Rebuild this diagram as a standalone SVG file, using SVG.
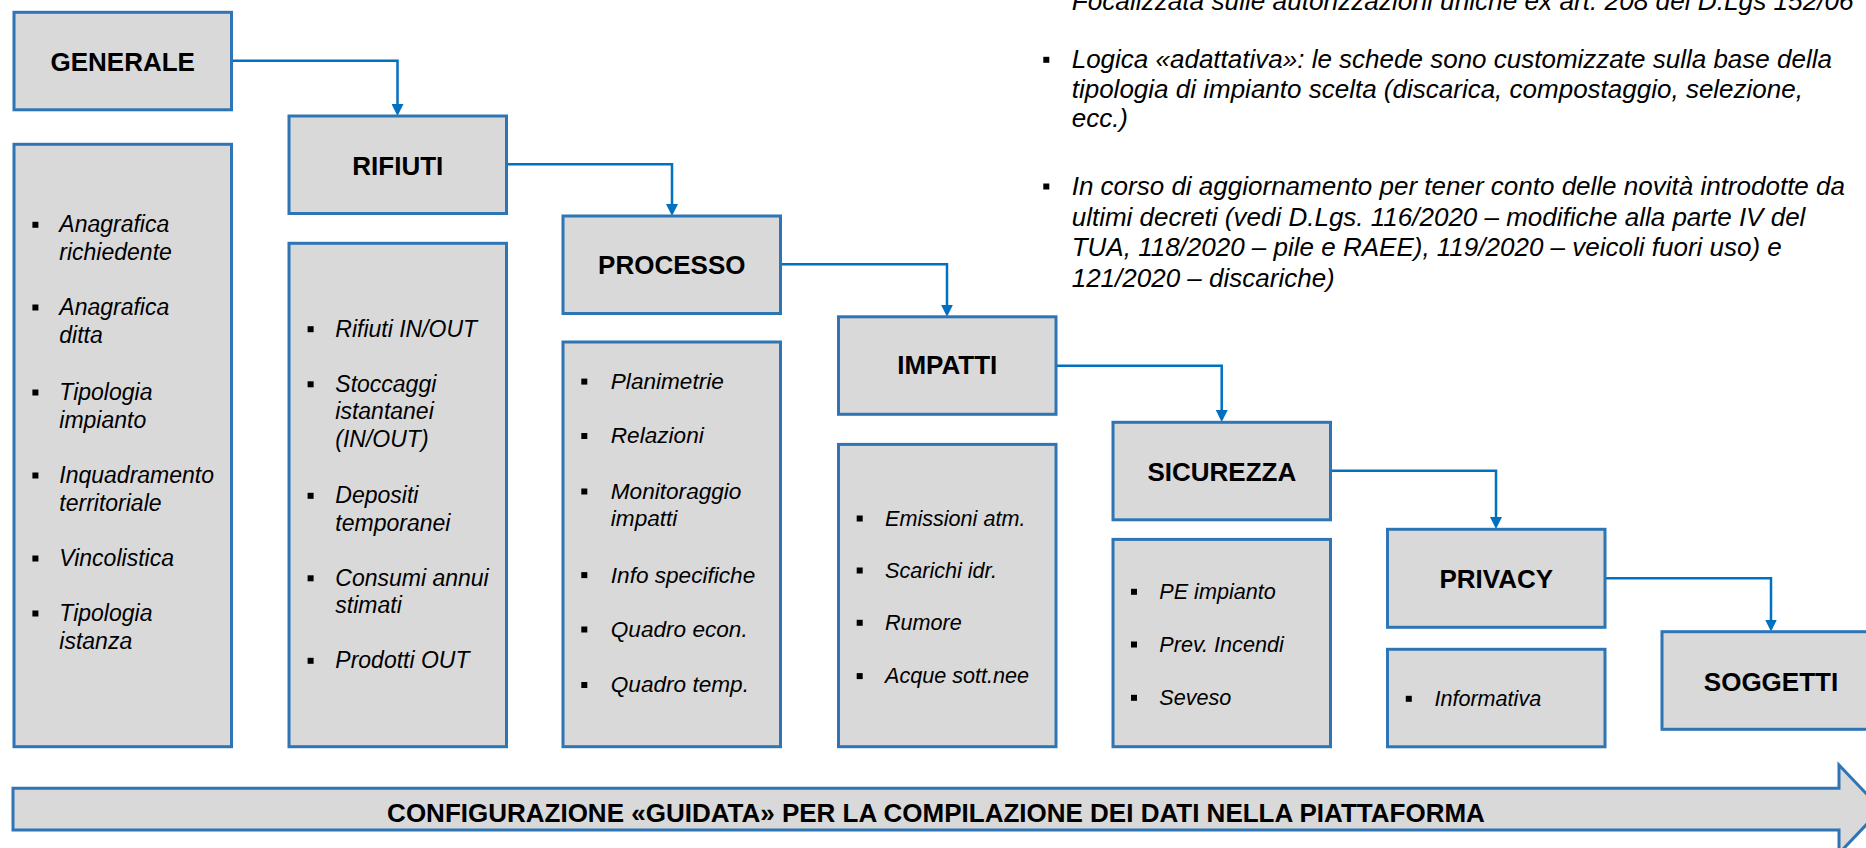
<svg xmlns="http://www.w3.org/2000/svg" width="1866" height="848" viewBox="0 0 1866 848">
  <defs>
    <style>
      .box { fill: #d9d9d9; stroke: #2e75b6; stroke-width: 3; }
      .title { font-family: "Liberation Sans", Arial, sans-serif; font-weight: bold; font-size: 26px; text-anchor: middle; fill: #000; }
      .item { font-family: "Liberation Sans", Arial, sans-serif; font-style: italic; fill: #000; }
      .s23 { font-size: 23px; }
      .s22 { font-size: 22.6px; }
      .s21 { font-size: 21.6px; }
      .s26 { font-size: 26px; }
      .bul { fill: #000; }
      .conn { fill: none; stroke: #0070c0; stroke-width: 2.5; }
    </style>
    <marker id="arr" viewBox="0 0 12 12" markerWidth="12" markerHeight="12" refX="1" refY="6" orient="auto" markerUnits="userSpaceOnUse">
      <path d="M0,0 L12,6 L0,12 Z" fill="#0070c0"/>
    </marker>
  </defs>

  <!-- Top description text -->
  <g id="notes">
    <text class="item s26" x="1071.7" y="9.5" textLength="782" lengthAdjust="spacingAndGlyphs">Focalizzata sulle autorizzazioni uniche ex art. 208 del D.Lgs 152/06</text>
    <rect class="bul" x="1043.3" y="56.8" width="6" height="6"/>
    <text class="item s26" x="1071.7" y="68.3">Logica «adattativa»: le schede sono customizzate sulla base della</text>
    <text class="item s26" x="1071.7" y="97.8">tipologia di impianto scelta (discarica, compostaggio, selezione,</text>
    <text class="item s26" x="1071.7" y="127.3">ecc.)</text>
    <rect class="bul" x="1043.3" y="183.5" width="6" height="6"/>
    <text class="item s26" x="1071.7" y="195">In corso di aggiornamento per tener conto delle novità introdotte da</text>
    <text class="item s26" x="1071.7" y="225.5">ultimi decreti (vedi D.Lgs. 116/2020 – modifiche alla parte IV del</text>
    <text class="item s26" x="1071.7" y="256">TUA, 118/2020 – pile e RAEE), 119/2020 – veicoli fuori uso) e</text>
    <text class="item s26" x="1071.7" y="286.5">121/2020 – discariche)</text>
  </g>

  <!-- Connectors -->
  <g id="connectors">
    <path class="conn" d="M231.5,60.7 H397.5 V105" marker-end="url(#arr)"/>
    <path class="conn" d="M507,164.3 H672 V205" marker-end="url(#arr)"/>
    <path class="conn" d="M781,264.3 H947 V305.8" marker-end="url(#arr)"/>
    <path class="conn" d="M1056,365.7 H1221.7 V411" marker-end="url(#arr)"/>
    <path class="conn" d="M1330.6,470.7 H1496 V518" marker-end="url(#arr)"/>
    <path class="conn" d="M1605.5,578.3 H1771 V620.5" marker-end="url(#arr)"/>
  </g>

  <!-- GENERALE -->
  <g id="generale">
    <rect class="box" x="14" y="12.3" width="217.5" height="97.5"/>
    <text class="title" x="122.7" y="70.7">GENERALE</text>
  </g>
  <g id="generale-list">
    <rect class="box" x="14" y="144.3" width="217.5" height="602.4"/>
    <rect class="bul" x="32.4" y="221.8" width="6" height="6"/>
    <text class="item s23" x="59.3" y="232.3">Anagrafica</text>
    <text class="item s23" x="59.3" y="260">richiedente</text>
    <rect class="bul" x="32.4" y="304.5" width="6" height="6"/>
    <text class="item s23" x="59.3" y="315">Anagrafica</text>
    <text class="item s23" x="59.3" y="342.5">ditta</text>
    <rect class="bul" x="32.4" y="389.5" width="6" height="6"/>
    <text class="item s23" x="59.3" y="400">Tipologia</text>
    <text class="item s23" x="59.3" y="428">impianto</text>
    <rect class="bul" x="32.4" y="472.5" width="6" height="6"/>
    <text class="item s23" x="59.3" y="483">Inquadramento</text>
    <text class="item s23" x="59.3" y="510.5">territoriale</text>
    <rect class="bul" x="32.4" y="555.5" width="6" height="6"/>
    <text class="item s23" x="59.3" y="566">Vincolistica</text>
    <rect class="bul" x="32.4" y="610.5" width="6" height="6"/>
    <text class="item s23" x="59.3" y="621">Tipologia</text>
    <text class="item s23" x="59.3" y="648.5">istanza</text>
  </g>

  <!-- RIFIUTI -->
  <g id="rifiuti">
    <rect class="box" x="289" y="116" width="217.5" height="97.5"/>
    <text class="title" x="397.8" y="175">RIFIUTI</text>
  </g>
  <g id="rifiuti-list">
    <rect class="box" x="289" y="243.3" width="217.5" height="503.4"/>
    <rect class="bul" x="307.6" y="326.2" width="6" height="6"/>
    <text class="item s23" x="335.3" y="336.7">Rifiuti IN/OUT</text>
    <rect class="bul" x="307.6" y="381.3" width="6" height="6"/>
    <text class="item s23" x="335.3" y="391.8">Stoccaggi</text>
    <text class="item s23" x="335.3" y="419.4">istantanei</text>
    <text class="item s23" x="335.3" y="447.2">(IN/OUT)</text>
    <rect class="bul" x="307.6" y="492.8" width="6" height="6"/>
    <text class="item s23" x="335.3" y="503.3">Depositi</text>
    <text class="item s23" x="335.3" y="530.8">temporanei</text>
    <rect class="bul" x="307.6" y="575.3" width="6" height="6"/>
    <text class="item s23" x="335.3" y="585.8">Consumi annui</text>
    <text class="item s23" x="335.3" y="613.3">stimati</text>
    <rect class="bul" x="307.6" y="657.8" width="6" height="6"/>
    <text class="item s23" x="335.3" y="668.3">Prodotti OUT</text>
  </g>

  <!-- PROCESSO -->
  <g id="processo">
    <rect class="box" x="563" y="216" width="217.5" height="97.5"/>
    <text class="title" x="671.8" y="274.3">PROCESSO</text>
  </g>
  <g id="processo-list">
    <rect class="box" x="563" y="342" width="217.5" height="404.7"/>
    <rect class="bul" x="581.3" y="378.6" width="6" height="6"/>
    <text class="item s22" x="610.8" y="389">Planimetrie</text>
    <rect class="bul" x="581.3" y="433" width="6" height="6"/>
    <text class="item s22" x="610.8" y="443.4">Relazioni</text>
    <rect class="bul" x="581.3" y="488.5" width="6" height="6"/>
    <text class="item s22" x="610.8" y="498.9">Monitoraggio</text>
    <text class="item s22" x="610.8" y="525.9">impatti</text>
    <rect class="bul" x="581.3" y="572.1" width="6" height="6"/>
    <text class="item s22" x="610.8" y="582.5">Info specifiche</text>
    <rect class="bul" x="581.3" y="626.5" width="6" height="6"/>
    <text class="item s22" x="610.8" y="636.9">Quadro econ.</text>
    <rect class="bul" x="581.3" y="682" width="6" height="6"/>
    <text class="item s22" x="610.8" y="692.4">Quadro temp.</text>
  </g>

  <!-- IMPATTI -->
  <g id="impatti">
    <rect class="box" x="838.5" y="316.8" width="217.5" height="97.5"/>
    <text class="title" x="947.3" y="374.2">IMPATTI</text>
  </g>
  <g id="impatti-list">
    <rect class="box" x="838.5" y="444.4" width="217.5" height="302.3"/>
    <rect class="bul" x="856.7" y="515.5" width="6" height="6"/>
    <text class="item s21" x="885" y="525.7">Emissioni atm.</text>
    <rect class="bul" x="856.7" y="567.5" width="6" height="6"/>
    <text class="item s21" x="885" y="577.7">Scarichi idr.</text>
    <rect class="bul" x="856.7" y="619.8" width="6" height="6"/>
    <text class="item s21" x="885" y="630">Rumore</text>
    <rect class="bul" x="856.7" y="673.1" width="6" height="6"/>
    <text class="item s21" x="885" y="683.3">Acque sott.nee</text>
  </g>

  <!-- SICUREZZA -->
  <g id="sicurezza">
    <rect class="box" x="1113" y="422.3" width="217.5" height="97.5"/>
    <text class="title" x="1221.8" y="480.6">SICUREZZA</text>
  </g>
  <g id="sicurezza-list">
    <rect class="box" x="1113" y="539.4" width="217.5" height="207.3"/>
    <rect class="bul" x="1131" y="588.8" width="6" height="6"/>
    <text class="item s21" x="1159.3" y="599">PE impianto</text>
    <rect class="bul" x="1131" y="641.5" width="6" height="6"/>
    <text class="item s21" x="1159.3" y="651.7">Prev. Incendi</text>
    <rect class="bul" x="1131" y="694.8" width="6" height="6"/>
    <text class="item s21" x="1159.3" y="705">Seveso</text>
  </g>

  <!-- PRIVACY -->
  <g id="privacy">
    <rect class="box" x="1387.5" y="529.3" width="217.5" height="98"/>
    <text class="title" x="1496.3" y="587.7">PRIVACY</text>
  </g>
  <g id="privacy-list">
    <rect class="box" x="1387.5" y="649.3" width="217.5" height="97.5"/>
    <rect class="bul" x="1405.8" y="695.8" width="6" height="6"/>
    <text class="item s21" x="1434.4" y="706">Informativa</text>
  </g>

  <!-- SOGGETTI -->
  <g id="soggetti">
    <rect class="box" x="1662" y="631.7" width="218" height="97.6"/>
    <text class="title" x="1771" y="690.7">SOGGETTI</text>
  </g>

  <!-- Bottom process arrow -->
  <g id="configurazione">
    <path class="box" d="M13,788.3 L1839,788.3 L1839,765 L1881,809.2 L1839,853.4 L1839,830 L13,830 Z"/>
    <text class="title" x="936" y="821.5">CONFIGURAZIONE «GUIDATA» PER LA COMPILAZIONE DEI DATI NELLA PIATTAFORMA</text>
  </g>
</svg>
